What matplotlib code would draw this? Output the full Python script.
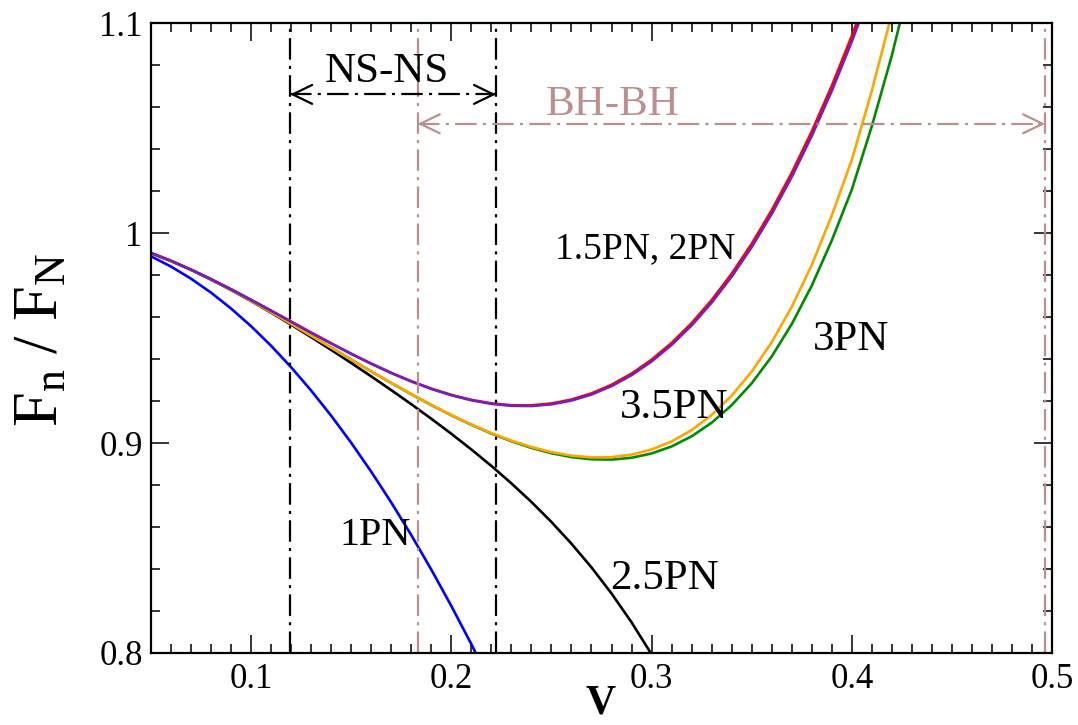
import matplotlib
matplotlib.use("Agg")
import matplotlib.pyplot as plt
from matplotlib.ticker import MultipleLocator, FixedLocator, FixedFormatter

plt.rcParams['font.family'] = ['Liberation Serif', 'DejaVu Serif']
plt.rcParams['mathtext.fontset'] = 'custom'
plt.rcParams['mathtext.rm'] = 'Liberation Serif'
plt.rcParams['mathtext.it'] = 'Liberation Serif:italic'
plt.rcParams['mathtext.bf'] = 'Liberation Serif:bold'
plt.rcParams['lines.scale_dashes'] = False

# Orbital velocity grid
v = [0.05, 0.06, 0.07, 0.08, 0.09, 0.10, 0.11, 0.12, 0.13, 0.14,
     0.15, 0.16, 0.17, 0.18, 0.19, 0.20, 0.21, 0.22, 0.23, 0.24,
     0.25, 0.26, 0.27, 0.28, 0.29, 0.30, 0.31, 0.32, 0.33, 0.34,
     0.35, 0.36, 0.37, 0.38, 0.39, 0.40, 0.41, 0.42, 0.43]

# Flux ratio F_n / F_N at each post-Newtonian order
flux_1pn = [0.98890, 0.98401, 0.97824, 0.97158, 0.96403, 0.95560, 0.94627,
            0.93606, 0.92496, 0.91297, 0.90009, 0.88632, 0.87167, 0.85613,
            0.83970, 0.82238, 0.80418, 0.78508]
flux_15pn = [0.99047, 0.98673, 0.98255, 0.97802, 0.97319, 0.96816, 0.96300,
             0.95777, 0.95256, 0.94745, 0.94250, 0.93780, 0.93341, 0.92942,
             0.92589, 0.92291, 0.92055, 0.91889, 0.91799, 0.91795, 0.91882,
             0.92069, 0.92363, 0.92772, 0.93304, 0.93965, 0.94764, 0.95707,
             0.96803, 0.98059, 0.99483, 1.01081, 1.02863, 1.04834, 1.07003,
             1.09377, 1.11964]
flux_2pn = [0.99047, 0.98673, 0.98255, 0.97801, 0.97319, 0.96815, 0.96298,
            0.95775, 0.95253, 0.94741, 0.94245, 0.93773, 0.93332, 0.92931,
            0.92576, 0.92275, 0.92035, 0.91864, 0.91770, 0.91760, 0.91841,
            0.92022, 0.92308, 0.92708, 0.93230, 0.93881, 0.94668, 0.95598,
            0.96680, 0.97920, 0.99327, 1.00906, 1.02668, 1.04617, 1.06762,
            1.09111, 1.11670]
flux_25pn = [0.99045, 0.98668, 0.98245, 0.97782, 0.97285, 0.96758, 0.96206,
             0.95632, 0.95040, 0.94432, 0.93809, 0.93171, 0.92518, 0.91847,
             0.91155, 0.90439, 0.89692, 0.88908, 0.88078, 0.87192, 0.86239,
             0.85205, 0.84076, 0.82835, 0.81463, 0.79939, 0.78242]
flux_3pn = [0.99045, 0.98669, 0.98247, 0.97786, 0.97293, 0.96773, 0.96232,
            0.95676, 0.95110, 0.94540, 0.93971, 0.93408, 0.92857, 0.92321,
            0.91807, 0.91320, 0.90867, 0.90452, 0.90083, 0.89768, 0.89513,
            0.89329, 0.89224, 0.89209, 0.89297, 0.89501, 0.89835, 0.90317,
            0.90965, 0.91799, 0.92842, 0.94119, 0.95658, 0.97489, 0.99644,
            1.02062, 1.05083, 1.08449, 1.12309]
flux_35pn = [0.99045, 0.98669, 0.98247, 0.97786, 0.97293, 0.96773, 0.96232,
             0.95676, 0.95111, 0.94541, 0.93973, 0.93411, 0.92860, 0.92326,
             0.91815, 0.91332, 0.90882, 0.90474, 0.90113, 0.89808, 0.89566,
             0.89398, 0.89314, 0.89326, 0.89446, 0.89690, 0.90073, 0.90614,
             0.91334, 0.92253, 0.93398, 0.94797, 0.96479, 0.98478, 1.00831,
             1.03480, 1.06768, 1.10443]

# Velocity bands of the detectable sources
ns_band = (0.1195, 0.2223)
bh_band = (0.1832, 0.4966)
ns_arrow_y = 1.066
bh_arrow_y = 1.052

tick_vals = [0.8, 0.9, 1.0, 1.1]
tick_text = ["0.8", "0.9", "1", "1.1"]

W, H = 1078, 725
fig = plt.figure(figsize=(W / 100, H / 100), dpi=100)
ax = fig.add_axes([151 / W, 1 - 653 / H, (1052 - 151) / W, (653 - 23) / H])

lw = 1.9
ax.plot(v[:len(flux_1pn)], flux_1pn, color='#0000ff', lw=lw)
ax.plot(v[:len(flux_25pn)], flux_25pn, color='black', lw=lw)
ax.plot(v[:len(flux_3pn)], flux_3pn, color='#008b00', lw=lw)
ax.plot(v[:len(flux_35pn)], flux_35pn, color='#ffa500', lw=lw)
ax.plot(v[:len(flux_15pn)], flux_15pn, color='#ff0000', lw=lw)
ax.plot(v[:len(flux_2pn)], flux_2pn, color='#7221bc', lw=lw)

dd = (15.5, 4.5, 2.2, 4.5)
bh_col = '#bc8f8f'
for xv in ns_band:
    ax.axvline(xv, color='black', lw=1.6, dashes=dd)
for xv in bh_band:
    ax.axvline(xv, color=bh_col, lw=1.6, dashes=dd)

ax.plot(ns_band, [ns_arrow_y] * 2, color='black', lw=1.6, dashes=dd)
ax.plot(bh_band, [bh_arrow_y] * 2, color=bh_col, lw=1.6, dashes=dd)

def head(x_tip, x_tail, y, col):
    ax.annotate('', xy=(x_tip, y), xytext=(x_tail, y),
                arrowprops=dict(arrowstyle='->, head_length=0.7, head_width=0.34',
                                color=col, lw=1.6, shrinkA=0, shrinkB=0,
                                mutation_scale=20))

head(ns_band[0], ns_band[0] + 0.003, ns_arrow_y, 'black')
head(ns_band[1], ns_band[1] - 0.003, ns_arrow_y, 'black')
head(bh_band[0], bh_band[0] + 0.003, bh_arrow_y, bh_col)
head(bh_band[1], bh_band[1] - 0.003, bh_arrow_y, bh_col)

fs_lab = 31
ax.text(0.1676, 1.0719, 'NS-NS', ha='center', va='baseline', fontsize=fs_lab)
ax.text(0.2808, 1.0562, 'BH-BH', ha='center', va='baseline', fontsize=fs_lab,
        color=bh_col)
ax.text(0.2968, 0.9881, '1.5PN, 2PN', ha='center', va='baseline', fontsize=27)
ax.text(0.3997, 0.9443, '3PN', ha='center', va='baseline', fontsize=fs_lab)
ax.text(0.3112, 0.9119, '3.5PN', ha='center', va='baseline', fontsize=fs_lab)
ax.text(0.3067, 0.8305, '2.5PN', ha='center', va='baseline', fontsize=fs_lab)
ax.text(0.1619, 0.8514, '1PN', ha='center', va='baseline', fontsize=29)

ax.set_xlim(0.05, 0.5)
ax.set_ylim(0.8, 1.1)
ax.xaxis.set_major_locator(FixedLocator([0.1, 0.2, 0.3, 0.4, 0.5]))
ax.xaxis.set_minor_locator(MultipleLocator(0.01))
ax.yaxis.set_major_locator(FixedLocator(tick_vals))
ax.yaxis.set_major_formatter(FixedFormatter(tick_text))
ax.yaxis.set_minor_locator(MultipleLocator(0.02))
ax.tick_params(which='both', direction='in', top=True, right=True,
               width=1.1, labelsize=25)
ax.tick_params(which='major', length=13)
ax.tick_params(which='minor', length=6.5)
ax.tick_params(axis='x', pad=7)
ax.tick_params(axis='y', pad=6)
for s in ax.spines.values():
    s.set_linewidth(1.6)

fig.text(42 / W, 1 - 340 / H, r'$\mathrm{F}_{\mathrm{n}}\ /\ \mathrm{F}_{\mathrm{N}}$',
         rotation=90, ha='center', va='center', fontsize=45)
fig.text(601 / W, 1 - 723 / H, 'V', ha='center', va='bottom', fontsize=30,
         fontweight='bold')

fig.savefig('out.png', dpi=100)
